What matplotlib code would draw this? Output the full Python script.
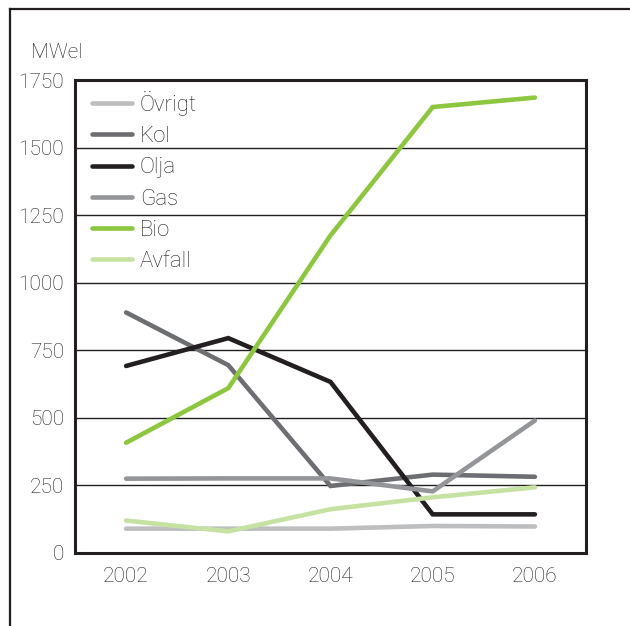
import matplotlib
matplotlib.use("Agg")
import matplotlib.pyplot as plt
from matplotlib.lines import Line2D

plt.rcParams['font.family'] = ['Roboto', 'DejaVu Sans']
plt.rcParams['font.weight'] = 'light'

years = [2002, 2003, 2004, 2005, 2006]
ovrigt = [90, 90, 90, 100, 98]
kol = [890, 695, 248, 290, 282]
olja = [692, 795, 633, 143, 143]
gas = [275, 276, 276, 228, 490]
bio = [408, 610, 1175, 1650, 1685]
avfall = [120, 80, 162, 206, 243]

series = [
    ("Övrigt", ovrigt, "#bcbec0"),
    ("Kol", kol, "#6d6e71"),
    ("Olja", olja, "#231f20"),
    ("Gas", gas, "#939598"),
    ("Bio", bio, "#8dc63f"),
    ("Avfall", avfall, "#c6e2a2"),
]
yticks = [0, 250, 500, 750, 1000, 1250, 1500, 1750]
ink = "#231f20"

fig = plt.figure(figsize=(6.30, 6.26), dpi=100)
ax = fig.add_axes([75 / 630, 1 - 553 / 626, 511 / 630, 473 / 626])

for name, vals, col in series:
    ax.plot(years, vals, color=col, lw=3.3, solid_capstyle='round',
            solid_joinstyle='miter', label=name, zorder=3)

ax.set_xlim(2001.5, 2006.5)
ax.set_ylim(0, 1750)
ax.set_xticks(years)
ax.set_yticks(yticks)
ax.tick_params(length=0, labelsize=15, colors=ink)
ax.tick_params(axis='y', pad=8)
ax.tick_params(axis='x', pad=10)
ax.grid(axis='y', color=ink, lw=1.0, zorder=1)
ax.grid(axis='x', visible=False)
for s in ax.spines.values():
    s.set_color(ink)
    s.set_linewidth(2.2)

fig.text(31 / 630, 1 - 52 / 626, "MWel", fontsize=15, color=ink,
         ha='left', va='center')

ax.legend(loc='upper left', bbox_to_anchor=(17 / 511, 1 - 11 / 473),
          frameon=False, fontsize=16, handlelength=1.8, handletextpad=0.35,
          labelspacing=0.46, borderaxespad=0, borderpad=0,
          labelcolor=ink)

# outer frame: top and left edges
fig.add_artist(Line2D([10 / 630, 10 / 630], [0, 1 - 9 / 626],
                      transform=fig.transFigure, color=ink, lw=1.6))
fig.add_artist(Line2D([10 / 630, 1], [1 - 9 / 626, 1 - 9 / 626],
                      transform=fig.transFigure, color=ink, lw=1.6))

fig.savefig("out.png", dpi=100)
